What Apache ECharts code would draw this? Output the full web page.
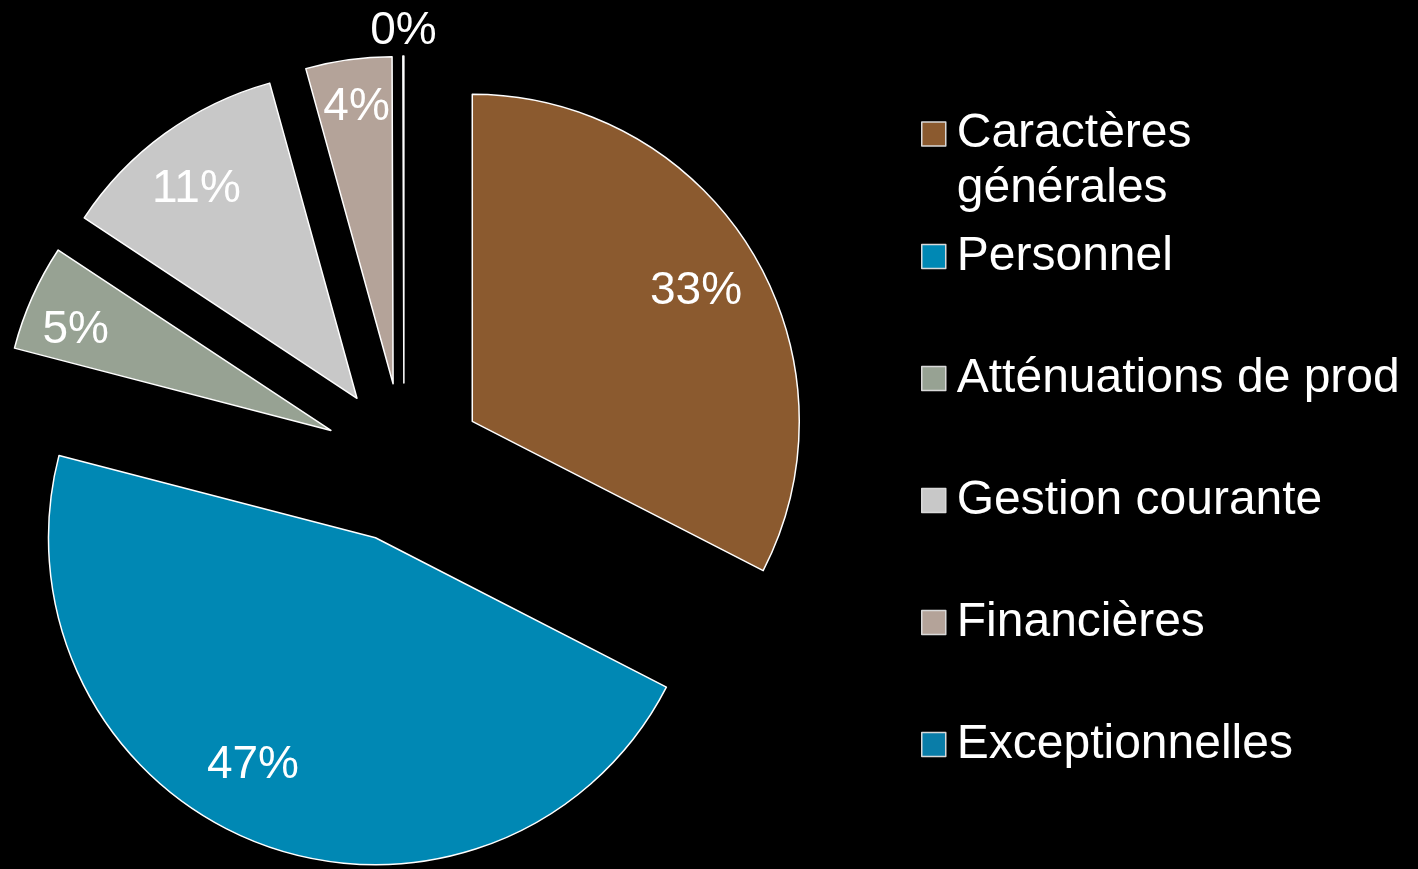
<!DOCTYPE html>
<html>
<head>
<meta charset="utf-8">
<title>Répartition des charges</title>
<script src="https://cdn.jsdelivr.net/npm/echarts@6/dist/echarts.min.js"></script>
<style>
  html, body { margin: 0; padding: 0; background: #000; }
  #chart { width: 1418px; height: 869px; }
</style>
</head>
<body>
<div id="chart"></div>
<script>
// données (parts en %)
const categories = ['Caractères générales', 'Personnel', 'Atténuations de prod', 'Gestion courante', 'Financières', 'Exceptionnelles'];
const shares = [32.55, 46.5, 5.25, 11.4, 4.25, 0.05];
const colors = ['#8B5A2F', '#0088B4', '#97A293', '#C8C8C8', '#B4A399', '#0A7DA8'];

const FONT = '"Liberation Sans", Arial, sans-serif';
const CENTER = [404, 463];

// petits décalages des étiquettes (padding du texte) pour coller à l'original
const labelPad = [[20, 10, 0, 0], [0, 54, 46, 0], [18, 21, 0, 0], [16, 6, 0, 0], [0, 0, 22, 0], [0, 0, 168, 0]];

const pieData = categories.map((name, i) => ({
  name: name,
  value: shares[i],
  selected: true,
  itemStyle: { color: colors[i] }
}));

const labelData = categories.map((name, i) => ({
  name: name,
  value: shares[i],
  selected: true,
  label: { padding: labelPad[i] }
}));

const legendBase = {
  orient: 'vertical',
  left: 921,
  padding: 0,
  itemWidth: 24,
  itemHeight: 24,
  icon: 'rect',
  selectedMode: false,
  itemStyle: { borderColor: '#d9d9d9', borderWidth: 1.5 }
};

const chart = echarts.init(document.getElementById('chart'));

const option = {
  backgroundColor: '#000',
  animation: false,
  legend: [
    // premier libellé sur deux lignes, carré aligné sur la première ligne
    Object.assign({}, legendBase, {
      top: 110,
      data: categories.slice(0, 1),
      formatter: function (name) {
        return '{t|' + name.replace(' ', '}\n{t|') + '}';
      },
      textStyle: {
        color: '#fff',
        fontFamily: FONT,
        fontSize: 48,
        padding: [55, 0, 0, 6],
        rich: {
          t: { color: '#fff', fontFamily: FONT, fontSize: 48, lineHeight: 55 }
        }
      }
    }),
    Object.assign({}, legendBase, {
      top: 229,
      itemGap: 67,
      data: categories.slice(1),
      textStyle: {
        color: '#fff',
        fontFamily: FONT,
        fontSize: 48,
        lineHeight: 55,
        padding: [0, 0, 0, 6]
      }
    })
  ],
  series: [
    {
      name: 'Charges',
      type: 'pie',
      center: CENTER,
      radius: [0, 327],
      startAngle: 90,
      clockwise: true,
      selectedMode: 'multiple',
      selectedOffset: 80,
      avoidLabelOverlap: false,
      itemStyle: { borderColor: '#fff', borderWidth: 1.5 },
      label: { show: false },
      labelLine: { show: false },
      emphasis: { disabled: true },
      data: pieData
    },
    {
      // série transparente servant uniquement à placer les pourcentages
      name: 'Etiquettes',
      type: 'pie',
      center: CENTER,
      radius: [203, 327],
      startAngle: 90,
      clockwise: true,
      silent: true,
      selectedMode: 'multiple',
      selectedOffset: 80,
      avoidLabelOverlap: false,
      percentPrecision: 0,
      itemStyle: { color: 'rgba(0,0,0,0)', borderWidth: 0 },
      label: {
        show: true,
        position: 'inside',
        formatter: '{p|{d}%}',
        rich: {
          p: { color: '#fff', fontFamily: FONT, fontSize: 46 }
        }
      },
      labelLine: { show: false },
      emphasis: { disabled: true },
      data: labelData
    }
  ]
};

chart.setOption(option);
</script>
</body>
</html>
